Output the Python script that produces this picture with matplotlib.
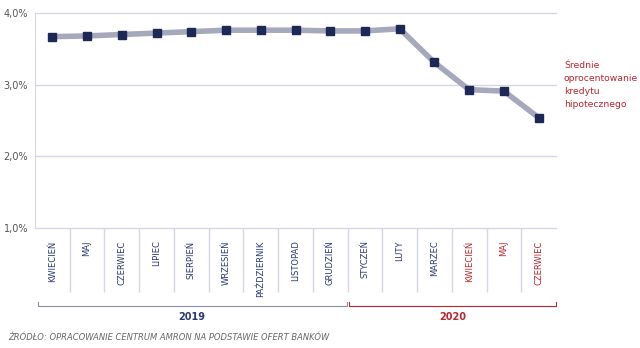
import matplotlib.pyplot as plt
import matplotlib.transforms as mtransforms

# dane
miesiace = ["KWIECIEŃ", "MAJ", "CZERWIEC", "LIPIEC", "SIERPIEŃ", "WRZESIEŃ", "PAŹDZIERNIK",
            "LISTOPAD", "GRUDZIEŃ", "STYCZEŃ", "LUTY", "MARZEC", "KWIECIEŃ", "MAJ", "CZERWIEC"]
oprocentowanie = [3.67, 3.68, 3.70, 3.72, 3.74, 3.76, 3.76, 3.76, 3.75, 3.75, 3.78, 3.31, 2.93, 2.91, 2.54]
lata = ["2019", "2020"]
lata_start = [0, 9]
lata_koniec = [8, 14]
y_ticks = [1.0, 2.0, 3.0, 4.0]

navy = "#2b3770"
red = "#b8262e"
grid_c = "#d5d7e5"

fig = plt.figure(figsize=(6.4, 3.48), dpi=100)
ax = fig.add_axes([35/640, 1-228/348, (556-35)/640, (228-13)/348])

x = list(range(len(miesiace)))
ax.plot(x, oprocentowanie, color="#a6a8bb", lw=4, solid_capstyle="butt", zorder=2)
ax.plot(x, oprocentowanie, ls="none", marker="s", ms=5.2, color="#1e2857", zorder=3)

ax.set_xlim(-0.5, len(miesiace)-0.5)
ax.set_ylim(1.0, 4.0)
ax.set_yticks(y_ticks)
ax.set_yticklabels([f"{v:.1f}%".replace(".", ",") for v in y_ticks], fontsize=7, color="#555555")
ax.tick_params(axis="y", length=0, pad=5)
for v in y_ticks:
    ax.axhline(v, color=grid_c, lw=1, zorder=1, clip_on=False)

for s in ["top", "right", "bottom"]:
    ax.spines[s].set_visible(False)
ax.spines["left"].set_color(grid_c)

# etykiety miesiecy
ax.set_xticks(x)
ax.set_xticklabels(miesiace, rotation=90, fontsize=6, va="top")
for i, lab in enumerate(ax.get_xticklabels()):
    lab.set_color(red if i >= 12 else navy)
ax.tick_params(axis="x", length=0, pad=9)
ax.set_xticks([i + 0.5 for i in range(len(miesiace)-1)], minor=True)
ax.tick_params(axis="x", which="minor", length=46, width=1, color=grid_c)

# nawiasy lat
tr = mtransforms.blended_transform_factory(ax.transData, fig.transFigure)
yb = 1 - 306/348
tick_h = 4/348
for i, rok in enumerate(lata):
    c = navy if i == 0 else red
    x0 = lata_start[i] - 0.42 if i == 0 else lata_start[i] - 0.47
    x1 = lata_koniec[i] + 0.47 if i == 0 else lata_koniec[i] + 0.5
    lc = "#8a8fa8" if i == 0 else red
    ax.plot([x0, x0, x1, x1], [yb + tick_h, yb, yb, yb + tick_h], color=lc, lw=0.8,
            transform=tr, clip_on=False)
    ax.text((x0 + x1) / 2, 1 - 317/348, rok, transform=tr, ha="center", va="center",
            fontsize=7, color=c, fontweight="bold")

fig.text(564/640, 1 - 85/348, "Średnie\noprocentowanie\nkredytu\nhipotecznego",
         ha="left", va="center", fontsize=6.7, color=red, linespacing=1.55)
fig.text(8/640, 1 - 337/348, "ŹRÓDŁO: OPRACOWANIE CENTRUM AMRON NA PODSTAWIE OFERT BANKÓW",
         ha="left", va="center", fontsize=6, color="#666666", style="italic")

fig.savefig("out.png", dpi=100)
